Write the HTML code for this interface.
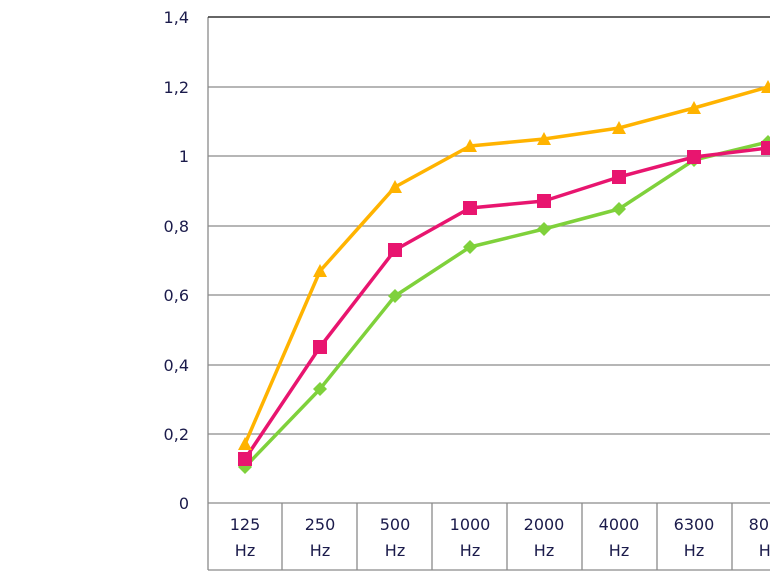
<!DOCTYPE html>
<html><head><style>body{margin:0;background:#fff}svg{display:block}</style></head><body>
<svg width="770" height="578" xmlns="http://www.w3.org/2000/svg" font-family="'DejaVu Sans','Liberation Sans',sans-serif" font-size="16" fill="#1b1b4b">
<g stroke="#8a8a8a" stroke-width="1.3">
<line x1="208" y1="87" x2="770" y2="87"/><line x1="208" y1="156" x2="770" y2="156"/>
<line x1="208" y1="226" x2="770" y2="226"/><line x1="208" y1="295" x2="770" y2="295"/>
<line x1="208" y1="365" x2="770" y2="365"/><line x1="208" y1="434" x2="770" y2="434"/>
<line x1="208" y1="503" x2="770" y2="503"/><line x1="208" y1="570" x2="770" y2="570"/>
<line x1="208" y1="17" x2="208" y2="570"/>
<line x1="282" y1="503" x2="282" y2="570"/><line x1="357" y1="503" x2="357" y2="570"/>
<line x1="432" y1="503" x2="432" y2="570"/><line x1="507" y1="503" x2="507" y2="570"/>
<line x1="582" y1="503" x2="582" y2="570"/><line x1="657" y1="503" x2="657" y2="570"/>
<line x1="732" y1="503" x2="732" y2="570"/>
</g>
<line x1="208" y1="17" x2="770" y2="17" stroke="#333" stroke-width="1.5"/>
<g text-anchor="end">
<text x="189" y="23">1,4</text><text x="189" y="93">1,2</text><text x="189" y="162">1</text>
<text x="189" y="232">0,8</text><text x="189" y="301">0,6</text><text x="189" y="371">0,4</text>
<text x="189" y="440">0,2</text><text x="189" y="509">0</text>
</g>
<g text-anchor="middle">
<text x="245" y="530">125</text><text x="245" y="556">Hz</text>
<text x="320" y="530">250</text><text x="320" y="556">Hz</text>
<text x="395" y="530">500</text><text x="395" y="556">Hz</text>
<text x="470" y="530">1000</text><text x="470" y="556">Hz</text>
<text x="544" y="530">2000</text><text x="544" y="556">Hz</text>
<text x="619" y="530">4000</text><text x="619" y="556">Hz</text>
<text x="694" y="530">6300</text><text x="694" y="556">Hz</text>
<text x="769" y="530">8000</text><text x="769" y="556">Hz</text>
</g>
<g fill="none" stroke-width="3.5" stroke-linejoin="round">
<polyline stroke="#FFB300" points="245,444 320,271 395,187 470,146 544,139 619,128 694,108 768,87"/>
<polyline stroke="#7FD13B" points="245,467 320,389 395,296 470,247 544,229 619,209 694,160 768,142"/>
<polyline stroke="#E8156F" points="245,459 320,347 395,250 470,208 544,201 619,177 694,157 768,148"/>
</g>
<g fill="#FFB300">
<polygon points="245,437 238,450 252,450"/><polygon points="320,264 313,277 327,277"/><polygon points="395,180 388,193 402,193"/><polygon points="470,139 463,152 477,152"/><polygon points="544,132 537,145 551,145"/><polygon points="619,121 612,134 626,134"/><polygon points="694,101 687,114 701,114"/><polygon points="768,80 761,93 775,93"/>
</g>
<g fill="#7FD13B">
<polygon points="245,460 252,467 245,474 238,467"/><polygon points="320,382 327,389 320,396 313,389"/><polygon points="395,289 402,296 395,303 388,296"/><polygon points="470,240 477,247 470,254 463,247"/><polygon points="544,222 551,229 544,236 537,229"/><polygon points="619,202 626,209 619,216 612,209"/><polygon points="694,153 701,160 694,167 687,160"/><polygon points="768,135 775,142 768,149 761,142"/>
</g>
<g fill="#E8156F">
<rect x="238" y="452" width="14" height="14"/><rect x="313" y="340" width="14" height="14"/><rect x="388" y="243" width="14" height="14"/><rect x="463" y="201" width="14" height="14"/><rect x="537" y="194" width="14" height="14"/><rect x="612" y="170" width="14" height="14"/><rect x="687" y="150" width="14" height="14"/><rect x="761" y="141" width="14" height="14"/>
</g>
</svg>
</body></html>
